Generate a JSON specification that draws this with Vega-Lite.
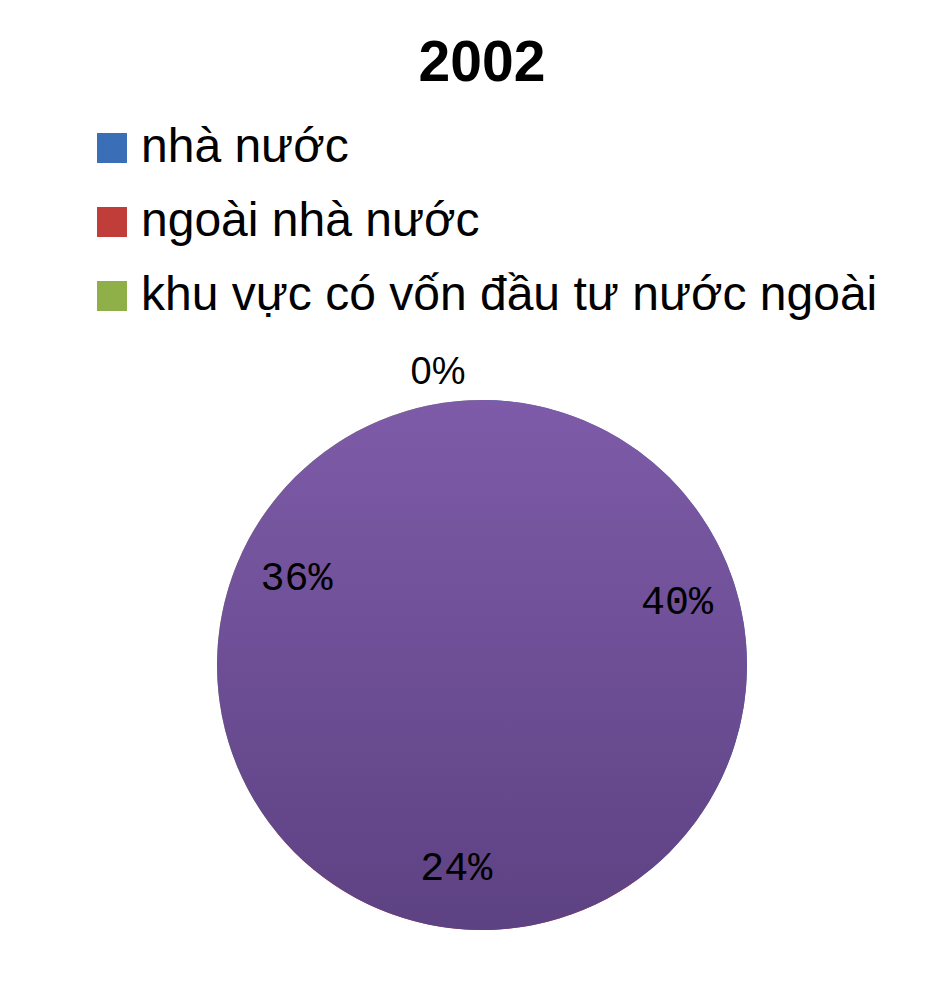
{
  "$schema": "https://vega.github.io/schema/vega-lite/v6.json",
  "autosize": "none",
  "width": 532,
  "height": 530,
  "padding": {"left": 216, "top": 400, "right": 197, "bottom": 69},
  "background": "white",
  "view": {"stroke": null},
  "title": {"text": "2002", "font": "Liberation Sans", "fontSize": 57, "fontWeight": "bold", "color": "black", "anchor": "middle", "frame": "group", "baseline": "alphabetic", "offset": -14},
  "data": {"values": [
    {"khu_vuc": "nhà nước", "ty_le": 0.40, "stt": 1},
    {"khu_vuc": "ngoài nhà nước", "ty_le": 0.24, "stt": 2},
    {"khu_vuc": "khu vực có vốn đầu tư nước ngoài", "ty_le": 0.36, "stt": 3},
    {"khu_vuc": "khác", "ty_le": 0, "stt": 4}
  ]},
  "layer": [
    {
      "mark": {"type": "arc", "outerRadius": 265},
      "encoding": {
        "theta": {"field": "ty_le", "type": "quantitative", "stack": true},
        "order": {"field": "stt", "type": "quantitative"},
        "color": {
          "field": "khu_vuc", "type": "nominal",
          "scale": {"domain": ["nhà nước", "ngoài nhà nước", "khu vực có vốn đầu tư nước ngoài", "khác"], "range": ["#3a6fb8", "#c03d3a", "#8fb048", "#7a58a3"]},
          "legend": {
            "values": ["nhà nước", "ngoài nhà nước", "khu vực có vốn đầu tư nước ngoài"],
            "title": null, "orient": "none", "legendX": -128, "legendY": -276,
            "padding": 0, "symbolType": "square", "symbolSize": 900, "symbolStrokeWidth": 0,
            "labelFont": "Liberation Sans", "labelFontSize": 48, "labelColor": "black",
            "labelOffset": 5, "labelLimit": 0, "rowPadding": 26
          }
        }
      }
    },
    {
      "transform": [{"aggregate": [{"op": "sum", "field": "ty_le", "as": "tong"}]}],
      "mark": {"type": "arc", "outerRadius": 265, "fill": {"gradient": "linear", "x1": 0, "y1": 0, "x2": 0, "y2": 1, "stops": [{"offset": 0, "color": "#7e5ba8"}, {"offset": 1, "color": "#5d4283"}]}},
      "encoding": {"theta": {"field": "tong", "type": "quantitative"}}
    },
    {
      "transform": [{"filter": "datum.ty_le > 0"}],
      "mark": {"type": "text", "radius": 205, "font": "Liberation Mono", "fontSize": 40, "color": "black"},
      "encoding": {
        "theta": {"field": "ty_le", "type": "quantitative", "stack": true},
        "order": {"field": "stt", "type": "quantitative"},
        "text": {"field": "ty_le", "type": "quantitative", "format": ".0%"}
      }
    },
    {
      "transform": [{"filter": "datum.ty_le == 0"}],
      "mark": {"type": "text", "radius": 292, "dx": -44, "font": "Liberation Sans", "fontSize": 38, "color": "black"},
      "encoding": {
        "theta": {"field": "ty_le", "type": "quantitative"},
        "text": {"field": "ty_le", "type": "quantitative", "format": ".0%"}
      }
    }
  ]
}
